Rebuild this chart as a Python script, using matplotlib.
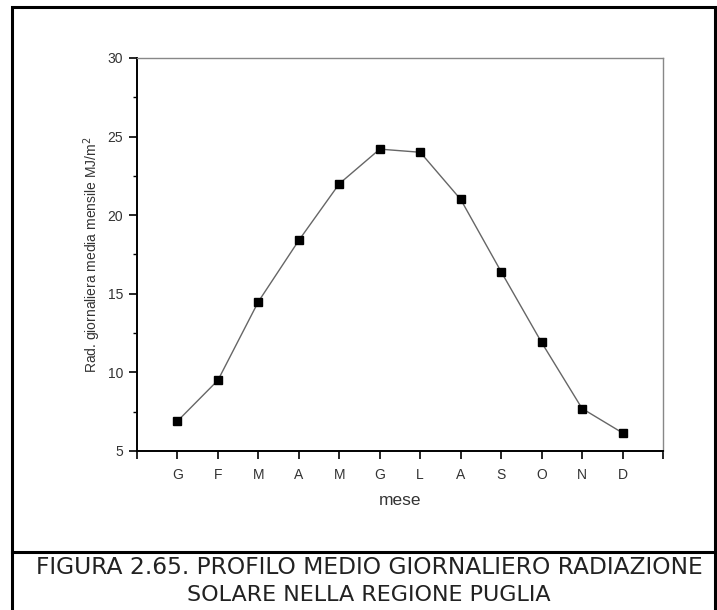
import matplotlib.pyplot as plt
import matplotlib.patches as patches
from matplotlib.lines import Line2D
from matplotlib.ticker import MultipleLocator

plt.rcParams['font.family'] = ['Liberation Sans', 'DejaVu Sans']

# data
months = ['G', 'F', 'M', 'A', 'M', 'G', 'L', 'A', 'S', 'O', 'N', 'D']
radiation = [6.9, 9.5, 14.5, 18.4, 22.0, 24.2, 24.0, 21.0, 16.4, 11.9, 7.7, 6.15]
x_pos = list(range(1, len(months) + 1))

fig = plt.figure(figsize=(7.17, 6.10), dpi=100)
ax = fig.add_axes([0.1911, 0.2607, 0.7336, 0.6443])

ax.plot(x_pos, radiation, color='#666666', linewidth=1.0,
        marker='s', markersize=5.3, markerfacecolor='black',
        markeredgecolor='black', zorder=3)

ax.set_xlim(0, 13)
ax.set_ylim(5, 30)
ax.set_xticks(range(0, 14))
ax.set_xticklabels([''] + months + [''])
ax.yaxis.set_major_locator(MultipleLocator(5))
ax.yaxis.set_minor_locator(MultipleLocator(2.5))

ax.tick_params(axis='both', which='major', direction='out', length=6,
               width=1.2, labelsize=10, colors='black', pad=4)
ax.tick_params(axis='y', which='minor', direction='out', length=3, width=1.0)
ax.tick_params(axis='x', pad=6)
for lbl in ax.get_xticklabels() + ax.get_yticklabels():
    lbl.set_color('#333333')

ax.spines['left'].set_linewidth(1.4)
ax.spines['bottom'].set_linewidth(1.4)
ax.spines['top'].set_color('#888888')
ax.spines['right'].set_color('#888888')
ax.spines['top'].set_linewidth(1.0)
ax.spines['right'].set_linewidth(1.0)

ax.set_xlabel('mese', fontsize=12.5, labelpad=8, color='#333333')
ax.set_ylabel('Rad. giornaliera media mensile MJ/m$^2$', fontsize=10,
              labelpad=3, color='#333333')

# outer frame and caption separator (figure coordinates)
W, H = 717.0, 610.0
frame = patches.Rectangle((12 / W, -0.01), (715 - 12) / W, (H - 7) / H + 0.01,
                          transform=fig.transFigure, fill=False,
                          edgecolor='black', linewidth=2.2)
fig.patches.append(frame)
fig.lines.append(Line2D([12 / W, 1.0], [1 - 552 / H, 1 - 552 / H],
                        transform=fig.transFigure, color='black', linewidth=2.2))

fig.text(369 / W, 1 - 568 / H, 'FIGURA 2.65. PROFILO MEDIO GIORNALIERO RADIAZIONE',
         ha='center', va='center', fontsize=16.8, color='#222222',
         family=['DejaVu Sans'])
fig.text(369 / W, 1 - 595 / H, 'SOLARE NELLA REGIONE PUGLIA',
         ha='center', va='center', fontsize=16.0, color='#222222',
         family=['DejaVu Sans'])

fig.savefig('out.png', dpi=100)
